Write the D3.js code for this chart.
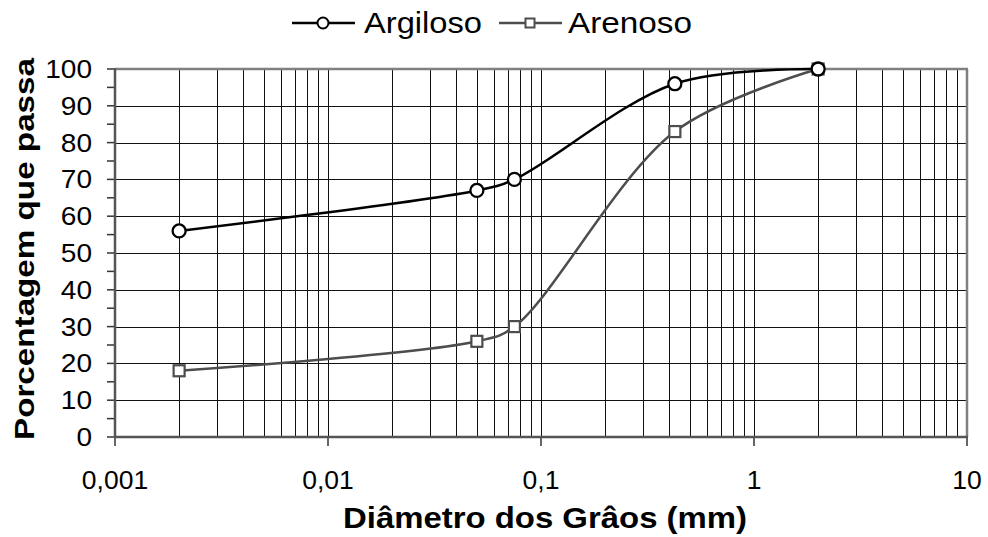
<!DOCTYPE html>
<html><head><meta charset="utf-8">
<script src="https://cdn.jsdelivr.net/npm/d3@7"></script>
<style>body{margin:0;background:#fff}svg{display:block}text{font-family:"Liberation Sans",Arial,sans-serif;fill:#000}</style>
</head><body>
<svg id="c" width="988" height="537"></svg>
<script>
const diameters = [0.002, 0.05, 0.075, 0.425, 2];
const argiloso = [56, 67, 70, 96, 100];
const arenoso = [18, 26, 30, 83, 100];
const seriesNames = ["Argiloso", "Arenoso"];
const xTickValues = [0.001, 0.01, 0.1, 1, 10];
const xTickLabels = ["0,001", "0,01", "0,1", "1", "10"];
const yTickValues = [0, 10, 20, 30, 40, 50, 60, 70, 80, 90, 100];

const svg = d3.select("#c");
const L = 115, R = 967, T = 69, B = 437;
const sx = 1.06;
const x = d3.scaleLog().domain([0.001, 10]).range([L, R]);
const y = d3.scaleLinear().domain([0, 100]).range([B, T]);

// minor vertical gridlines
const vgrid = [];
for (let e = -3; e < 1; e++) for (let m = 1; m <= 9; m++) vgrid.push(m * Math.pow(10, e));
const g = svg.append("g").attr("shape-rendering", "crispEdges");
g.selectAll("line.v").data(vgrid.filter(v => v > 0.001 && v < 10)).enter().append("line")
  .attr("x1", d => Math.round(x(d)) + 0.5).attr("x2", d => Math.round(x(d)) + 0.5)
  .attr("y1", T).attr("y2", B).attr("stroke", "#111").attr("stroke-width", 1);
g.selectAll("line.h").data(yTickValues.filter(v => v > 0 && v < 100)).enter().append("line")
  .attr("x1", L).attr("x2", R)
  .attr("y1", d => Math.round(y(d)) + 0.5).attr("y2", d => Math.round(y(d)) + 0.5)
  .attr("stroke", "#111").attr("stroke-width", 1);

// border top/right
svg.append("line").attr("x1", L).attr("x2", R + 1).attr("y1", T).attr("y2", T).attr("stroke", "#808080").attr("stroke-width", 2.5);
svg.append("line").attr("x1", R).attr("x2", R).attr("y1", T).attr("y2", B).attr("stroke", "#808080").attr("stroke-width", 2.5);

// y axis
const yMinor = d3.range(0, 101, 5);
svg.append("g").selectAll("line").data(yMinor).enter().append("line")
  .attr("x1", 107).attr("x2", L).attr("y1", d => y(d)).attr("y2", d => y(d))
  .attr("stroke", "#333").attr("stroke-width", 1.5);
svg.append("line").attr("x1", L).attr("x2", L).attr("y1", T - 1).attr("y2", B + 1).attr("stroke", "#555").attr("stroke-width", 2.5);
svg.append("g").selectAll("text").data(yTickValues).enter().append("text")
  .attr("transform", d => `translate(92,${y(d) + 9}) scale(1.1,1)`)
  .attr("text-anchor", "end").attr("font-size", 25.5).text(d => d);

// x axis
svg.append("g").selectAll("line").data(xTickValues).enter().append("line")
  .attr("x1", d => x(d)).attr("x2", d => x(d)).attr("y1", B).attr("y2", B + 9)
  .attr("stroke", "#333").attr("stroke-width", 1.5);
svg.append("line").attr("x1", L - 1).attr("x2", R + 1).attr("y1", B).attr("y2", B).attr("stroke", "#555").attr("stroke-width", 2.5);
svg.append("g").selectAll("text").data(xTickValues).enter().append("text")
  .attr("transform", d => `translate(${x(d)},${489}) scale(${sx},1)`)
  .attr("text-anchor", "middle").attr("font-size", 25).text((d, i) => xTickLabels[i]);

// titles
svg.append("text").attr("x", 545).attr("y", 528).attr("text-anchor", "middle")
  .attr("font-size", 29).attr("font-weight", "bold")
  .attr("textLength", 404).attr("lengthAdjust", "spacingAndGlyphs")
  .text("Diâmetro dos Grâos (mm)");
svg.append("text").attr("transform", "translate(34,249) rotate(-90)").attr("text-anchor", "middle")
  .attr("font-size", 28).attr("font-weight", "bold")
  .attr("textLength", 382).attr("lengthAdjust", "spacingAndGlyphs")
  .text("Porcentagem que passa");

// series
const colors = ["#000", "#4d4d4d"];
const data = [argiloso, arenoso];
const line = d3.line().x(d => x(d[0])).y(d => y(d[1])).curve(d3.curveCatmullRom.alpha(0.5));
data.forEach((vals, i) => {
  const pts = diameters.map((d, j) => [d, vals[j]]);
  svg.append("path").attr("d", line(pts)).attr("fill", "none")
    .attr("stroke", colors[i]).attr("stroke-width", 2.5);
});
// markers
svg.append("g").selectAll("rect").data(diameters.map((d, j) => [d, arenoso[j]])).enter().append("rect")
  .attr("x", d => x(d[0]) - 5.5).attr("y", d => y(d[1]) - 5.5).attr("width", 11).attr("height", 11)
  .attr("fill", "#fff").attr("stroke", colors[1]).attr("stroke-width", 2.2);
svg.append("g").selectAll("circle").data(diameters.map((d, j) => [d, argiloso[j]])).enter().append("circle")
  .attr("cx", d => x(d[0])).attr("cy", d => y(d[1])).attr("r", 6.5)
  .attr("fill", "#fff").attr("stroke", colors[0]).attr("stroke-width", 2.3);

// legend
const leg = [{x0: 292, tx: 364, w: 118}, {x0: 499, tx: 568, w: 124}];
leg.forEach((l, i) => {
  const lg = svg.append("g");
  lg.append("line").attr("x1", l.x0).attr("x2", l.x0 + 63).attr("y1", 23).attr("y2", 23)
    .attr("stroke", colors[i]).attr("stroke-width", 2.5);
  if (i === 0) lg.append("circle").attr("cx", l.x0 + 31).attr("cy", 23).attr("r", 5.5)
    .attr("fill", "#fff").attr("stroke", colors[0]).attr("stroke-width", 2);
  else lg.append("rect").attr("x", l.x0 + 31 - 4.5).attr("y", 18.5).attr("width", 9).attr("height", 9)
    .attr("fill", "#fff").attr("stroke", colors[1]).attr("stroke-width", 2);
  lg.append("text").attr("x", l.tx).attr("y", 33).attr("font-size", 30)
    .attr("textLength", l.w).attr("lengthAdjust", "spacingAndGlyphs").text(seriesNames[i]);
});
</script>
</body></html>
